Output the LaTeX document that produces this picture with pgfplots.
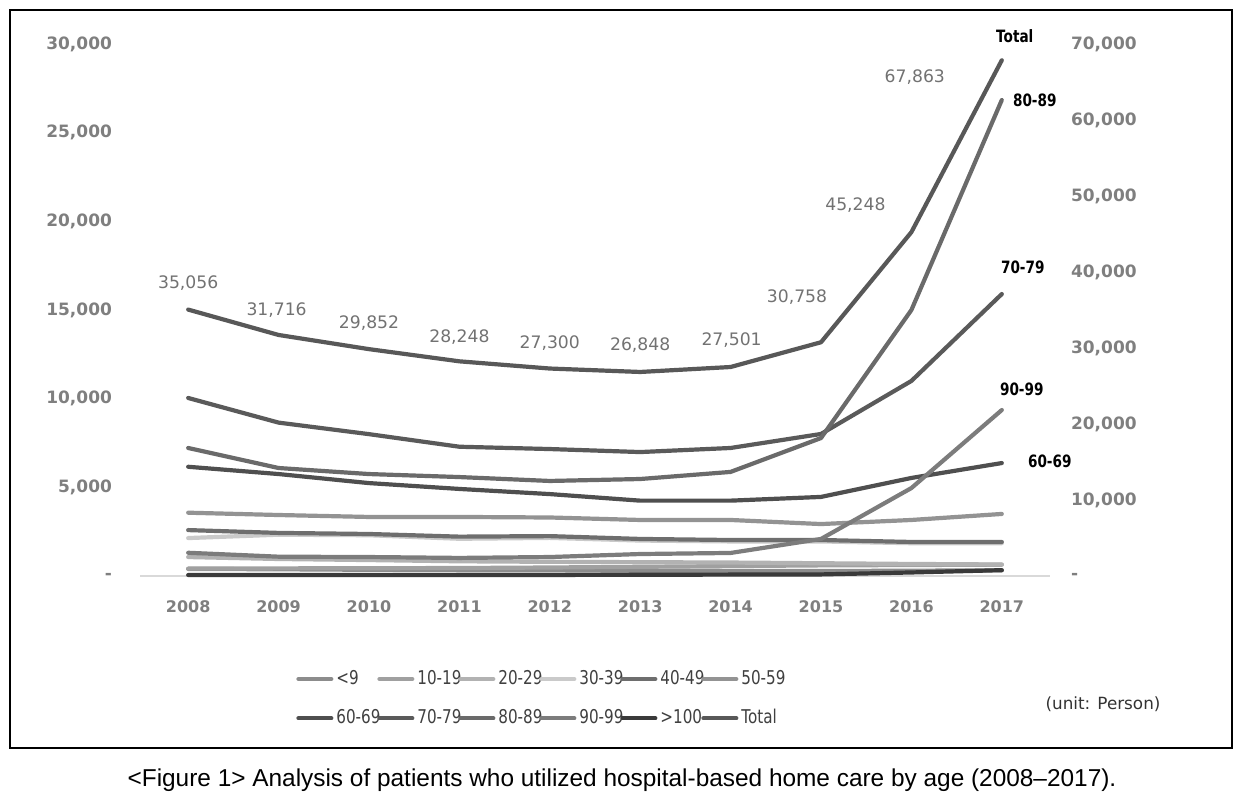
\documentclass[border=0pt]{standalone}
\usepackage{pgfplots}
\pgfplotsset{compat=1.18}
\usepackage{pgfplotstable}
\usepackage{fontspec}
\setmainfont{DejaVu Sans}
\newfontfamily\legfont[FakeStretch=0.8]{DejaVu Sans}
\newfontfamily\capfont{Liberation Sans}

\definecolor{ticktxt}{HTML}{7F7F7F}
\definecolor{c09}{HTML}{8C8C8C}
\definecolor{c1019}{HTML}{A0A0A0}
\definecolor{c2029}{HTML}{B2B2B2}
\definecolor{c3039}{HTML}{CACACA}
\definecolor{c4049}{HTML}{6E6E6E}
\definecolor{c5059}{HTML}{939393}
\definecolor{c6069}{HTML}{4F4F4F}
\definecolor{c7079}{HTML}{5A5A5A}
\definecolor{c8089}{HTML}{6A6A6A}
\definecolor{c9099}{HTML}{7C7C7C}
\definecolor{c100}{HTML}{3A3A3A}
\definecolor{cTot}{HTML}{585858}

% x: 0 = 2008 ... 9 = 2017
\pgfplotstableread{
x a09 a1019 a2029 a3039 a4049 a5059 a6069 a7079 a8089 a9099 a100 total
0 400 420 1070 2140 2590 3570 6160 10040 7220 1310 56 35056
1 380 430 960 2330 2430 3440 5750 8650 6090 1090 60 31716
2 350 440 900 2300 2370 3330 5240 8000 5750 1070 60 29852
3 330 450 830 2100 2220 3330 4910 7290 5580 1020 60 28248
4 320 480 800 2150 2250 3300 4620 7160 5360 1070 60 27300
5 300 520 780 2000 2090 3160 4250 6990 5470 1240 70 26848
6 290 560 760 1950 2030 3160 4250 7220 5870 1300 80 27501
7 280 600 720 1950 2030 2930 4460 8010 7780 2090 90 30758
8 300 620 680 1850 1920 3160 5530 11000 15000 4960 200 45248
9 320 640 650 1850 1920 3500 6370 15900 26840 9360 330 67863
}\agedata

\pgfplotsset{
  base/.style={
    at={(O)}, anchor=south west,
    scale only axis, width=452pt, height=266pt,
    xmin=-0.5, xmax=9.5, ymin=0,
    scaled y ticks=false,
    major tick length=0pt,
    tick label style={font=\bfseries\fontsize{8.5}{10}\selectfont, text=ticktxt},
    clip=false,
    every axis plot/.append style={line width=2.1pt, mark=none, line cap=round, line join=round},
  },
}
\tikzset{
  endlbl/.style={font=\legfont\bfseries\fontsize{8.5}{10}\selectfont, text=black},
  vlbl/.style={font=\fontsize{8.6}{10}\selectfont, text=ticktxt!90!black},
}
\newcommand{\legtxt}[1]{\makebox[19pt][l]{#1}}

\begin{document}
\begin{tikzpicture}
\begin{scope}[x=0.5pt,y=-0.5pt]
  \draw[line width=1pt] (10,10) rectangle (1232,748);
  \coordinate (O) at (143,576);
  \node[font=\capfont\fontsize{12.2}{14}\selectfont] at (622,780)
    {<Figure 1> Analysis of patients who utilized hospital-based home care by age (2008–2017).};
  \node[font=\fontsize{8.4}{10}\selectfont, text=black!80] at (1103,704) {(unit: Person)};
\end{scope}

\begin{axis}[
  base,
  ymax=30000,
  xtick={0,...,9},
  xticklabels={2008,2009,2010,2011,2012,2013,2014,2015,2016,2017},
  ytick={0,5000,10000,15000,20000,25000,30000},
  yticklabels={-,{5,000},{10,000},{15,000},{20,000},{25,000},{30,000}},
  axis x line*=bottom, axis y line*=left,
  y axis line style={draw=none},
  x axis line style={draw=black!15, line width=0.8pt, shorten <=-1.5pt, shorten >=-1.5pt},
  xticklabel style={yshift=-9pt, font=\bfseries\fontsize{8}{10}\selectfont},
  yticklabel style={xshift=-12pt},
  legend columns=6,
  legend style={at={(0.1692,-0.1692)}, anchor=north west, draw=none, fill=none,
    font=\legfont\fontsize{9.5}{11}\selectfont, text=black!75,
    column sep=1pt, row sep=7pt, inner sep=0pt, nodes={inner xsep=0.5pt}},
  legend image code/.code={\draw[#1, line width=2pt] (0pt,0pt) -- (16.5pt,0pt);},
]
\addplot[c09] table[x=x,y=a09]{\agedata};
\addlegendentry{\legtxt{<9}}
\addplot[c1019] table[x=x,y=a1019]{\agedata};
\addlegendentry{\legtxt{10-19}}
\addplot[c2029] table[x=x,y=a2029]{\agedata};
\addlegendentry{\legtxt{20-29}}
\addplot[c3039] table[x=x,y=a3039]{\agedata};
\addlegendentry{\legtxt{30-39}}
\addplot[c4049] table[x=x,y=a4049]{\agedata};
\addlegendentry{\legtxt{40-49}}
\addplot[c5059] table[x=x,y=a5059]{\agedata};
\addlegendentry{\legtxt{50-59}}
\addplot[c6069] table[x=x,y=a6069]{\agedata};
\addlegendentry{\legtxt{60-69}}
\addplot[c7079] table[x=x,y=a7079]{\agedata};
\addlegendentry{\legtxt{70-79}}
\addplot[c8089] table[x=x,y=a8089]{\agedata};
\addlegendentry{\legtxt{80-89}}
\addplot[c9099] table[x=x,y=a9099]{\agedata};
\addlegendentry{\legtxt{90-99}}
\addplot[c100] table[x=x,y=a100]{\agedata};
\addlegendentry{\legtxt{>100}}
\addlegendimage{cTot}
\addlegendentry{\legtxt{Total}}

\node[endlbl] at (axis cs:9,26840) [xshift=16.5pt] {80-89};
\node[endlbl] at (axis cs:9,15900) [xshift=10.5pt, yshift=13.5pt] {70-79};
\node[endlbl] at (axis cs:9,9360) [xshift=10pt, yshift=10.5pt] {90-99};
\node[endlbl] at (axis cs:9,6370) [xshift=24pt, yshift=1pt] {60-69};
\end{axis}

\begin{axis}[
  base,
  ymax=70000,
  axis x line=none,
  axis y line*=right,
  y axis line style={draw=none},
  ytick={0,10000,20000,30000,40000,50000,60000,70000},
  yticklabels={-,{10,000},{20,000},{30,000},{40,000},{50,000},{60,000},{70,000}},
  yticklabel style={xshift=8.5pt},
]
\addplot[cTot] table[x=x,y=total]{\agedata};
\node[vlbl] at (axis cs:0,35056) [yshift=13pt] {35,056};
\node[vlbl] at (axis cs:1,31716) [xshift=-1pt, yshift=12.5pt] {31,716};
\node[vlbl] at (axis cs:2,29852) [yshift=13pt] {29,852};
\node[vlbl] at (axis cs:3,28248) [yshift=12pt] {28,248};
\node[vlbl] at (axis cs:4,27300) [yshift=12.75pt] {27,300};
\node[vlbl] at (axis cs:5,26848) [yshift=13.5pt] {26,848};
\node[vlbl] at (axis cs:6,27501) [xshift=0.5pt, yshift=13.5pt] {27,501};
\node[vlbl] at (axis cs:7,30758) [xshift=-12pt, yshift=22.5pt] {30,758};
\node[vlbl] at (axis cs:8,45248) [xshift=-28pt, yshift=13.5pt] {45,248};
\node[vlbl] at (axis cs:9,67863) [xshift=-43.5pt, yshift=-8.5pt] {67,863};
\node[endlbl] at (axis cs:9,67863) [xshift=6.5pt, yshift=12pt] {Total};
\end{axis}

\pgfresetboundingbox
\begin{scope}[x=0.5pt,y=-0.5pt]
  \path[use as bounding box] (0,0) rectangle (1242,804);
\end{scope}
\end{tikzpicture}
\end{document}
